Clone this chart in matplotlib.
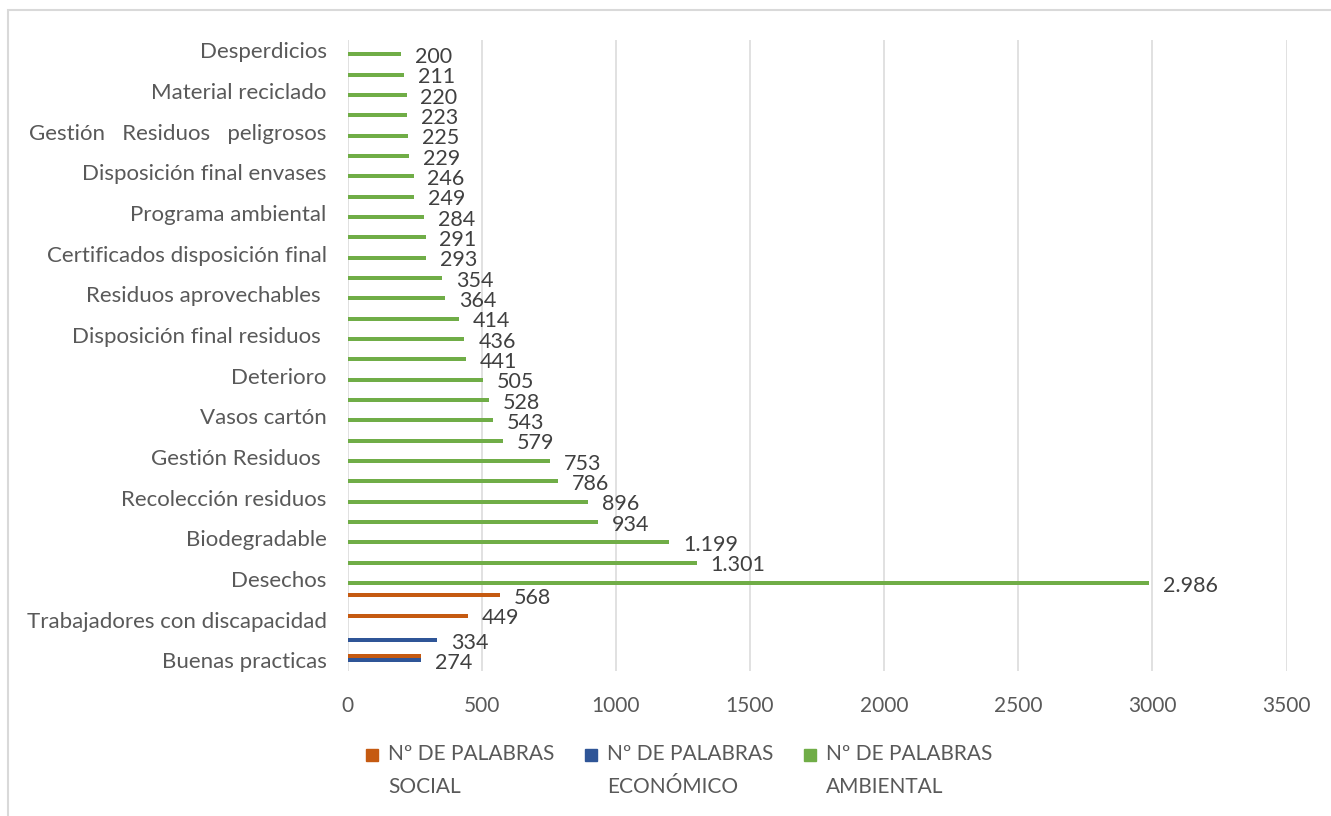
import matplotlib
matplotlib.use("Agg")
import matplotlib.pyplot as plt
from matplotlib.patches import Rectangle
import numpy as np

# categories bottom -> top; hidden (skipped) Excel labels are left blank
categories = [
    "Buenas practicas", "", "Trabajadores con discapacidad", "", "Desechos", "",
    "Biodegradable", "", "Recolección residuos", "", "Gestión Residuos ", "",
    "Vasos cartón", "", "Deterioro", "", "Disposición final residuos ", "",
    "Residuos aprovechables ", "", "Certificados disposición final", "",
    "Programa ambiental", "", "Disposición final envases", "",
    "Gestión   Residuos   peligrosos", "", "Material reciclado", "", "Desperdicios",
]
social = [274, 0, 449, 568] + [0] * 27
economico = [274, 334, 0, 0] + [0] * 27
ambiental = [0, 0, 0, 0, 2986, 1301, 1199, 934, 896, 786, 753, 579, 543, 528,
             505, 441, 436, 414, 364, 354, 293, 291, 284, 249, 246, 229, 225,
             223, 220, 211, 200]
series_names = ["Nº DE PALABRAS\nSOCIAL", "Nº DE PALABRAS\nECONÓMICO",
                "Nº DE PALABRAS\nAMBIENTAL"]
colors = ["#C55A11", "#2F5597", "#70AD47"]

plt.rcParams["font.family"] = ["Lato", "DejaVu Sans"]
TXT = "#595959"

fig = plt.figure(figsize=(13.31, 8.16), dpi=100)
ax = fig.add_axes([0.2611, 0.1783, 0.7055, 0.7727])

y = np.arange(len(categories))
h = 0.2
offsets = [h, 0, -h]
labels = {}
for vals, off, col in zip([social, economico, ambiental], offsets, colors):
    vals = np.array(vals, dtype=float)
    ax.barh(y + off, np.where(vals > 0, vals, np.nan), height=h, color=col,
            zorder=3)
    for i, v in enumerate(vals):
        if v > 0:
            labels[(i, v)] = i + off

for (i, v), yy in labels.items():
    txt = f"{int(v):,}".replace(",", ".")
    ax.annotate(txt, (v, yy), xytext=(10, -2), textcoords="offset points",
                ha="left", va="center", fontsize=15.5, color="#404040")

ax.set_xlim(0, 3500)
ax.set_xticks(np.arange(0, 3501, 500))
ax.set_ylim(-0.5, len(categories) - 0.5)
ax.set_yticks(y)
ax.set_yticklabels(categories)
ax.grid(axis="x", color="#D9D9D9", linewidth=1.1, zorder=0)
ax.set_axisbelow(True)
for s in ax.spines.values():
    s.set_visible(False)
ax.tick_params(axis="both", length=0, colors=TXT)
ax.tick_params(axis="y", pad=15, labelsize=16)
ax.tick_params(axis="x", pad=18, labelsize=15)

# legend drawn by hand so the square sits on the first text line
leg_x = [366, 585, 804]
for x0, name, col in zip(leg_x, series_names, colors):
    fig.patches.append(Rectangle((x0 / 1331, 1 - 761 / 816), 12 / 1331, 12 / 816,
                                 transform=fig.transFigure, color=col))
    fig.text((x0 + 22) / 1331, 1 - 744 / 816, name, ha="left", va="top",
             fontsize=15, color=TXT, linespacing=1.8)

# chart-area border
fig.patches.append(Rectangle((8 / 1331, -0.01), 1.1, 1 - 10 / 816 + 0.01,
                             transform=fig.transFigure, fill=False,
                             edgecolor="#D9D9D9", linewidth=1.5))

fig.savefig("out.png", dpi=100)
